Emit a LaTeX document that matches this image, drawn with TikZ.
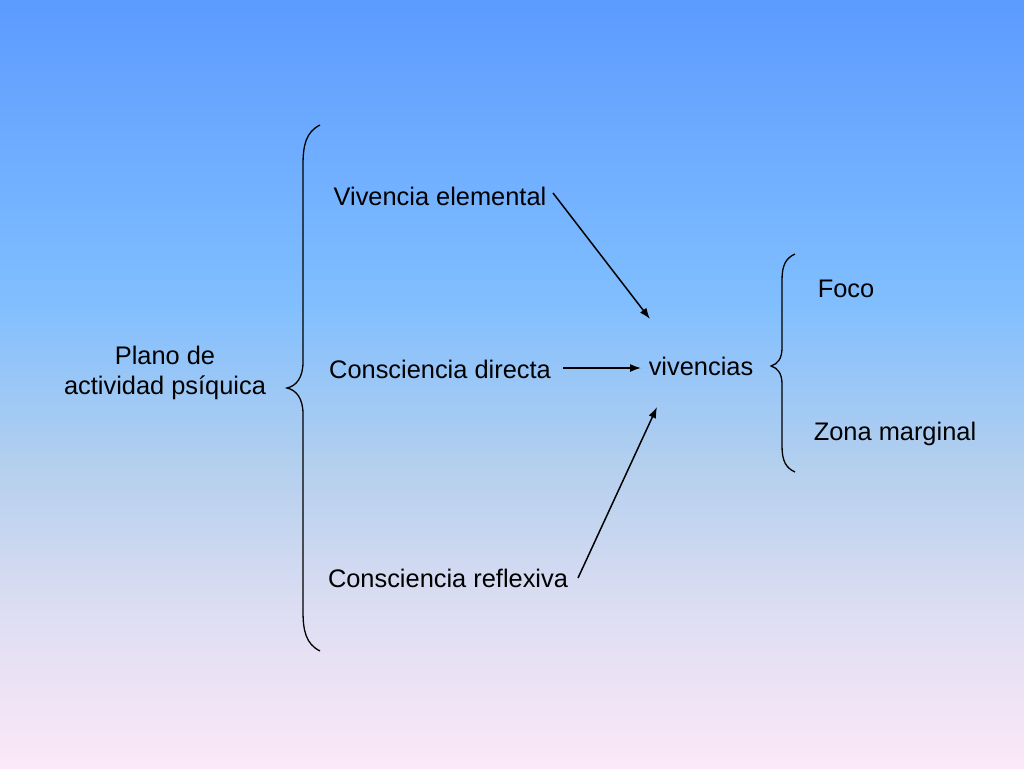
\documentclass[tikz,border=0pt]{standalone}
\usepackage{fontspec}
\setmainfont{Liberation Sans}
\usetikzlibrary{arrows.meta}
\definecolor{bgtop}{RGB}{92,155,255}
\definecolor{bgsky}{RGB}{128,190,255}
\definecolor{bgmid}{RGB}{178,207,238}
\definecolor{bglav}{RGB}{222,222,242}
\definecolor{bgbot}{RGB}{252,232,248}
\pgfdeclareverticalshading{bgshade}{100bp}{color(0bp)=(bgbot); color(25bp)=(bgbot); color(35bp)=(bglav); color(45bp)=(bgmid); color(55.5bp)=(bgsky); color(75bp)=(bgtop); color(100bp)=(bgtop)}
\begin{document}
\begin{tikzpicture}[x=1pt,y=-1pt,
  lbl/.style={font=\fontsize{25.4}{30}\selectfont, inner sep=0pt, align=center, text=black},
  arr/.style={line width=1.5pt, -{Latex[length=11,width=8]}},
  brace/.style={line width=1.3pt}]
\useasboundingbox (0,0) rectangle (1024,768);
\shade[shading=bgshade] (0,0) rectangle (1024,768);
% text nodes
\node[lbl] (plano) at (165,373) {Plano de\\actividad psíquica};
\node[lbl] (ve) at (440,196) {Vivencia elemental};
\node[lbl] (cd) at (440,369) {Consciencia directa};
\node[lbl] (cr) at (448,578) {Consciencia reflexiva};
\node[lbl] (viv) at (701,366) {vivencias};
\node[lbl] (foco) at (846,289) {Foco};
\node[lbl] (zona) at (895,434) {Zona marginal};
% arrow ends
\coordinate (t1) at (650,319);
\coordinate (t2) at (641,368);
\coordinate (t3) at (657,407);
\coordinate (s1) at (553,193);
\coordinate (s2) at (563,368);
\coordinate (s3) at (578,578);
\draw[arr] (s1) -- (t1);
\draw[arr] (s2) -- (t2);
\draw[arr] (s3) -- (t3);
% left brace
\draw[brace] (320,125) .. controls (306,132) and (303,145) .. (303,165)
  -- (303,362) .. controls (303,378) and (296,386) .. (287,388)
  .. controls (296,390) and (303,398) .. (303,414)
  -- (303,611) .. controls (303,631) and (306,644) .. (320,651);
% right brace
\draw[brace] (795,254) .. controls (786,258) and (782,265) .. (782,280)
  -- (782,348) .. controls (782,358) and (778,364) .. (771,366)
  .. controls (778,368) and (782,374) .. (782,384)
  -- (782,446) .. controls (782,461) and (786,468) .. (795,472);
\end{tikzpicture}
\end{document}
